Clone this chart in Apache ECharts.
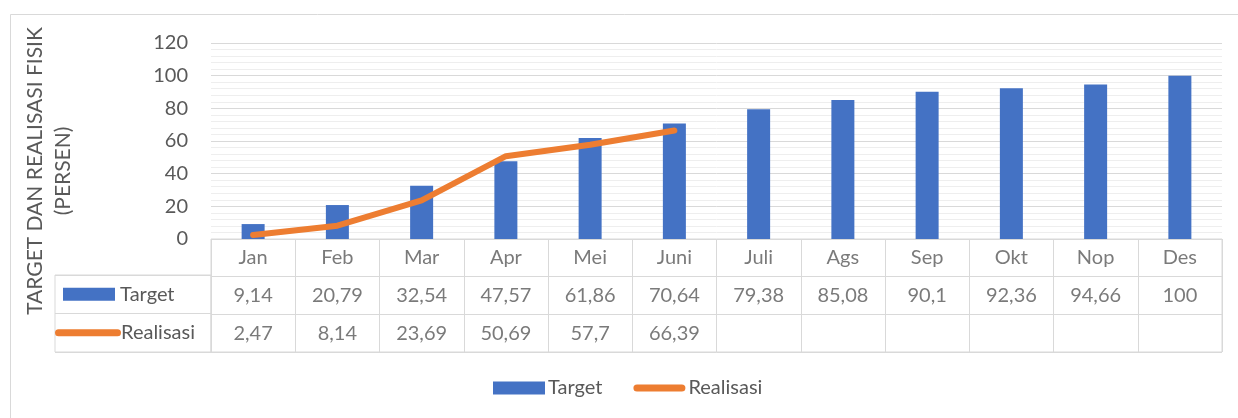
<!DOCTYPE html>
<html lang="id">
<head>
    <meta charset="UTF-8">
    <title>Target dan Realisasi Fisik</title>
    <style>
        html, body { margin: 0; padding: 0; background: #fff; }
    </style>
</head>
<body>
<div id="main" style="width: 1238px;height:418px;"></div>
<script src="https://cdn.jsdelivr.net/npm/echarts@6/dist/echarts.min.js"></script>
<script type="text/javascript">
    // data dari gambar
    var bulan = ['Jan', 'Feb', 'Mar', 'Apr', 'Mei', 'Juni', 'Juli', 'Ags', 'Sep', 'Okt', 'Nop', 'Des'];
    var target = [9.14, 20.79, 32.54, 47.57, 61.86, 70.64, 79.38, 85.08, 90.1, 92.36, 94.66, 100];
    var realisasi = [2.47, 8.14, 23.69, 50.69, 57.7, 66.39, null, null, null, null, null, null];
    var barisTabel = ['Realisasi', 'Target', 'Bulan'];
    var barisJudul = ['Realisasi', 'Target'];
    var yTicks = [0, 20, 40, 60, 80, 100, 120];

    var abu = '#595959';
    var garis = '#d9d9d9';
    var font = 'Lato, "Open Sans", sans-serif';
    // ikon garis membulat untuk legenda Realisasi
    var ikonGaris = 'path://M4,0 L54,0 A4,4 0 0 1 54,8 L4,8 A4,4 0 0 1 4,0 Z';

    function koma(v) {
        return String(v).replace('.', ',');
    }

    // isi sel tabel: [bulan, baris, teks]
    var sel = [];
    for (var i = 0; i < bulan.length; i++) {
        sel.push([bulan[i], 'Bulan', bulan[i]]);
        sel.push([bulan[i], 'Target', koma(target[i])]);
        if (realisasi[i] != null) {
            sel.push([bulan[i], 'Realisasi', koma(realisasi[i])]);
        }
    }

    var myChart = echarts.init(document.getElementById('main'));

    var option = {
        animation: false,
        backgroundColor: '#fff',
        textStyle: { fontFamily: font },
        graphic: [
            {
                type: 'rect',
                shape: { x: 10.5, y: 14.5, width: 1240, height: 420 },
                style: { fill: 'none', stroke: garis, lineWidth: 1 },
                silent: true
            },
            {
                type: 'text',
                x: 49,
                y: 171,
                rotation: Math.PI / 2,
                style: {
                    text: 'TARGET DAN REALISASI FISIK\n(PERSEN)',
                    fill: abu,
                    font: '21px ' + font,
                    lineHeight: 28,
                    align: 'center',
                    verticalAlign: 'middle'
                }
            }
        ],
        legend: {
            left: 493,
            top: 378,
            padding: 0,
            itemWidth: 52,
            itemHeight: 13,
            itemGap: 31,
            textStyle: { color: abu, fontSize: 20, fontFamily: font, padding: [0, 0, 0, -2] },
            data: [
                { name: 'Target', icon: 'rect' },
                { name: 'Realisasi', icon: ikonGaris, itemStyle: { color: '#ED7D31' } }
            ]
        },
        grid: [
            { left: 211, top: 43, width: 1011, height: 196 },
            { left: 211, top: 239, width: 1011, height: 113, show: true, borderColor: garis, borderWidth: 1 },
            { left: 55, top: 275, width: 156, height: 77, show: true, borderColor: garis, borderWidth: 1 }
        ],
        xAxis: [
            {
                type: 'category', gridIndex: 0, data: bulan,
                axisLine: { show: false }, axisTick: { show: false }, axisLabel: { show: false }
            },
            {
                type: 'category', gridIndex: 1, data: bulan,
                axisLine: { show: false }, axisTick: { show: false }, axisLabel: { show: false },
                splitLine: { show: true, lineStyle: { color: garis, width: 1 } }
            },
            {
                type: 'value', gridIndex: 2, show: false
            }
        ],
        yAxis: [
            {
                type: 'value', gridIndex: 0,
                min: yTicks[0], max: yTicks[yTicks.length - 1], interval: 20,
                axisLine: { show: false }, axisTick: { show: false },
                axisLabel: { color: abu, fontSize: 20, fontFamily: font, margin: 23 },
                splitLine: { lineStyle: { color: garis, width: 1 } },
                minorTick: { show: false, splitNumber: 5 },
                minorSplitLine: { show: true, lineStyle: { color: '#eeeeee', width: 1 } }
            },
            {
                type: 'category', gridIndex: 1, data: barisTabel,
                axisLine: { show: false }, axisTick: { show: false }, axisLabel: { show: false },
                splitLine: { show: true, lineStyle: { color: garis, width: 1 } }
            },
            {
                type: 'category', gridIndex: 2, data: barisJudul,
                axisLine: { show: false }, axisTick: { show: false },
                splitLine: { show: true, lineStyle: { color: garis, width: 1 } },
                axisLabel: {
                    inside: true,
                    margin: 0,
                    formatter: function (v) {
                        return v === 'Target' ? '{sp|}{box|}{t| Target}' : '{line|}{t|Realisasi}';
                    },
                    rich: {
                        sp: { width: 8 },
                        box: { width: 52, height: 13, backgroundColor: '#4472C4' },
                        line: { width: 66, height: 7, backgroundColor: '#ED7D31', borderRadius: 4 },
                        t: { fontSize: 20, color: abu, fontFamily: font }
                    }
                }
            }
        ],
        series: [
            {
                name: 'Target',
                type: 'bar',
                xAxisIndex: 0, yAxisIndex: 0,
                barWidth: 23,
                itemStyle: { color: '#4472C4' },
                data: target
            },
            {
                name: 'Realisasi',
                type: 'line',
                xAxisIndex: 0, yAxisIndex: 0,
                symbol: 'none',
                connectNulls: false,
                lineStyle: { color: '#ED7D31', width: 6, cap: 'round', join: 'round' },
                itemStyle: { color: '#ED7D31' },
                data: realisasi
            },
            {
                name: 'tabel',
                type: 'scatter',
                xAxisIndex: 1, yAxisIndex: 1,
                symbolSize: 0,
                silent: true,
                label: {
                    show: true,
                    position: 'inside',
                    color: abu,
                    fontSize: 20,
                    fontFamily: font,
                    formatter: function (p) { return p.value[2]; }
                },
                data: sel
            }
        ]
    };

    myChart.setOption(option);
</script>
</body>
</html>
